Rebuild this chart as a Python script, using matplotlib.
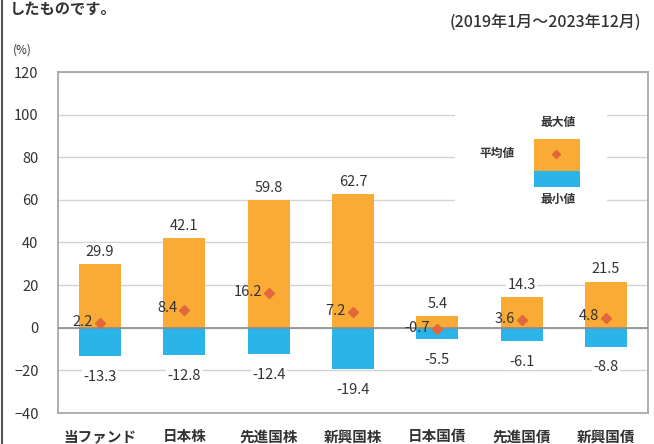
import numpy as np
import matplotlib.pyplot as plt
from matplotlib.patches import Rectangle
from matplotlib.lines import Line2D

plt.rcParams['font.family'] = ['Noto Sans CJK JP', 'DejaVu Sans']

categories = ['当ファンド', '日本株', '先進国株', '新興国株', '日本国債', '先進国債', '新興国債']
max_vals = [29.9, 42.1, 59.8, 62.7, 5.4, 14.3, 21.5]
mean_vals = [2.2, 8.4, 16.2, 7.2, -0.7, 3.6, 4.8]
min_vals = [-13.3, -12.8, -12.4, -19.4, -5.5, -6.1, -8.8]

orange = '#F9AB36'
blue = '#2AB4E8'
red = '#E2673B'
txt = '#333333'

fig = plt.figure(figsize=(6.54, 4.44), dpi=100)
ax = fig.add_axes([58 / 654, 31 / 444, 590 / 654, 341 / 444])

x = np.arange(len(categories))
ax.bar(x, max_vals, width=0.5, color=orange, zorder=2)
ax.bar(x, min_vals, width=0.5, color=blue, zorder=2)
ax.plot(x, mean_vals, linestyle='none', marker='D', markersize=5.5,
        color=red, zorder=4)

for i in range(len(x)):
    ax.annotate(f'{max_vals[i]:.1f}', (x[i], max_vals[i]), xytext=(0, 9),
                textcoords='offset points', ha='center', va='center',
                fontsize=10.5, color=txt, zorder=5,
                bbox=dict(boxstyle='square,pad=0.1', fc='white', ec='none'))
    ax.annotate(f'{min_vals[i]:.1f}', (x[i], min_vals[i]), xytext=(0, -15),
                textcoords='offset points', ha='center', va='center',
                fontsize=10.5, color=txt, zorder=5,
                bbox=dict(boxstyle='square,pad=0.1', fc='white', ec='none'))
    ax.annotate(f'{mean_vals[i]:.1f}', (x[i], mean_vals[i]), xytext=(-5, 1),
                textcoords='offset points', ha='right', va='center',
                fontsize=10.5, color=txt, zorder=5)

ax.set_xlim(-0.5, len(categories) - 0.5)
ax.set_ylim(-40, 120)
ax.set_yticks(np.arange(-40, 121, 20))
ax.set_xticks(x)
ax.set_xticklabels(categories, fontsize=9.5, fontweight='bold', color=txt)
ax.tick_params(length=0, labelsize=10.5, colors=txt)
ax.tick_params(axis='y', pad=14)
ax.tick_params(axis='x', pad=11)
ax.yaxis.grid(True, color='#d4d4d4', linewidth=1)
ax.set_axisbelow(True)
ax.axhline(0, color='#8c8c8c', linewidth=1.2, zorder=3)
for s in ax.spines.values():
    s.set_color('#a8a8a8')
    s.set_linewidth(1.3)

# legend drawn as a small stacked bar
tr = ax.transAxes
ax.add_patch(Rectangle((0.673, 0.581), 0.257, 0.337, transform=tr,
                       fc='white', ec='none', zorder=1.5))
ax.add_patch(Rectangle((0.807, 0.710), 0.078, 0.094, transform=tr,
                       fc=orange, ec='none', zorder=2))
ax.add_patch(Rectangle((0.807, 0.663), 0.078, 0.047, transform=tr,
                       fc=blue, ec='none', zorder=2))
ax.add_line(Line2D([0.844], [0.760], transform=tr, marker='D', markersize=4.5,
                   color=red, linestyle='none', zorder=3))
ax.text(0.847, 0.853, '最大値', transform=tr, ha='center', va='center',
        fontsize=8.5, fontweight='bold', color=txt)
ax.text(0.744, 0.760, '平均値', transform=tr, ha='center', va='center',
        fontsize=8.5, fontweight='bold', color=txt)
ax.text(0.847, 0.625, '最小値', transform=tr, ha='center', va='center',
        fontsize=8.5, fontweight='bold', color=txt)

fig.text(13 / 654, 1 - 50 / 444, '(%)', fontsize=8.5, color=txt, va='center')
fig.text(641 / 654, 1 - 22 / 444, '(2019年1月～2023年12月)', fontsize=11.5,
         color=txt, ha='right', va='center', fontweight='medium')
fig.text(10 / 654, 1 - 9 / 444, 'したものです。', fontsize=11, color=txt,
         ha='left', va='center', fontweight='bold')
fig.add_artist(Line2D([2 / 654, 2 / 654], [0, 1], transform=fig.transFigure,
                      color='#555555', linewidth=1.5))

fig.savefig('out.png', dpi=100)
